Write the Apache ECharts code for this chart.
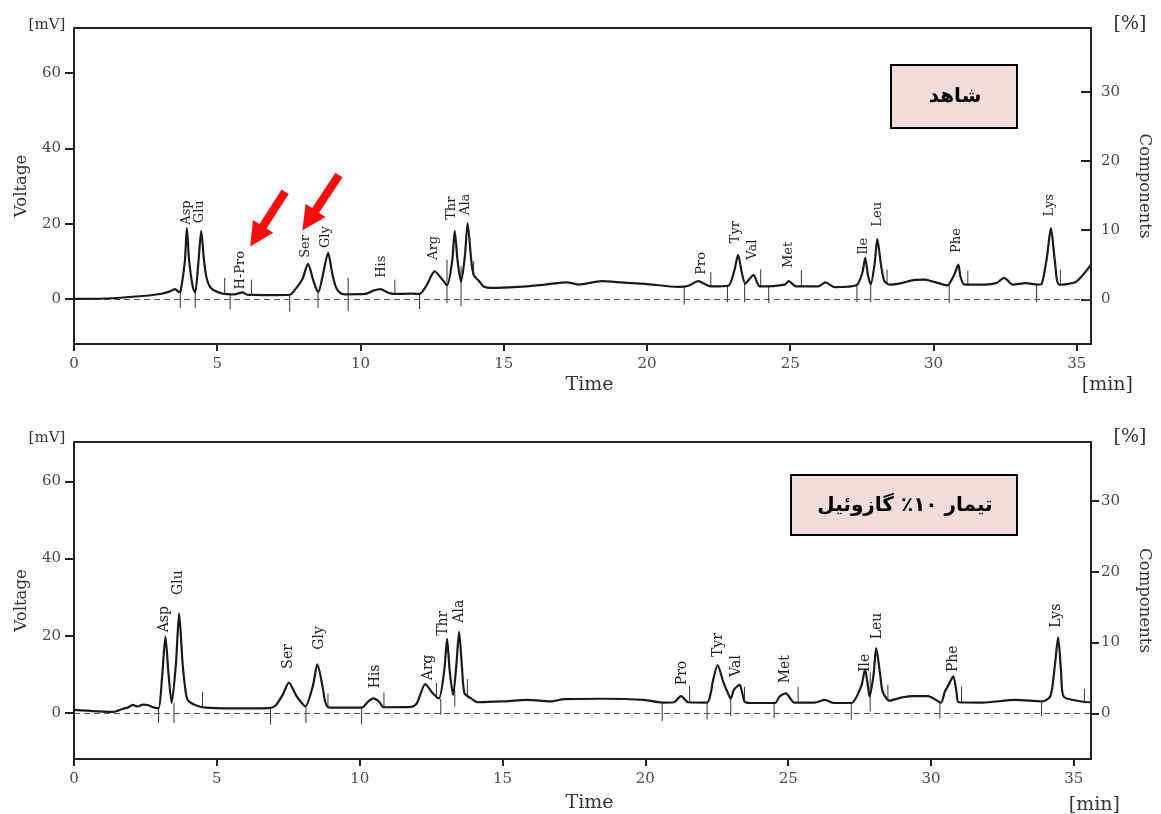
<!DOCTYPE html>
<html>
<head>
<meta charset="utf-8">
<script src="https://cdn.jsdelivr.net/npm/echarts@6/dist/echarts.min.js"></script>
<style>html,body{margin:0;padding:0;background:#fff;}#c{width:1161px;height:814px;}</style>
</head>
<body>
<div id="c"></div>
<script>
// ---- tick labels ----
const timeTicks = [0, 5, 10, 15, 20, 25, 30, 35];
const voltTicks = [0, 20, 40, 60];
const compTicks = [0, 10, 20, 30];

// ---- control (شاهد) chromatogram: [time min, voltage mV] ----
const topCurve = [
  [0,0],[1.1,0.1],[2.28,0.7],[3.0,1.3],[3.35,2.0],[3.53,2.6],[3.66,1.8],[3.72,2.0],
  [3.87,10],[3.94,18.8],[4.02,10],[4.15,3.0],[4.23,1.7],[4.34,9.5],[4.44,18.1],[4.54,10],
  [4.63,5.5],[4.75,3.2],[4.9,2.2],[5.18,1.4],[5.6,1.2],[5.88,1.7],[6.05,1.1],[6.23,1.05],
  [7.0,1.0],[7.53,1.1],[7.75,2.8],[7.97,5.2],[8.17,9.3],[8.34,5.2],[8.45,2.8],[8.53,1.85],
  [8.69,6.5],[8.87,12.2],[9.02,6.5],[9.15,3.0],[9.3,1.5],[9.45,1.2],[10.17,1.3],[10.45,2.2],
  [10.7,2.6],[10.95,1.7],[11.16,1.3],[11.8,1.4],[12.06,1.3],[12.3,3.5],[12.59,7.3],[12.85,5.2],
  [13.02,3.6],[13.2,10],[13.29,18.1],[13.39,10],[13.51,4.5],[13.64,11],[13.74,20.1],[13.87,10],
  [13.95,6.4],[14.13,4.8],[14.3,3.3],[14.59,2.9],[15.5,3.2],[16.45,3.8],[17.2,4.4],[17.6,3.8],
  [18.42,4.7],[19.2,4.3],[19.93,4.0],[21.09,3.2],[21.45,3.5],[21.79,4.7],[22.05,3.8],[22.25,3.3],
  [22.84,3.5],[23.05,7.5],[23.18,11.7],[23.31,7.0],[23.43,4.0],[23.55,5.0],[23.72,6.4],[23.85,4.2],
  [23.94,3.3],[24.81,3.8],[24.95,4.7],[25.2,3.3],[25.97,3.3],[26.23,4.4],[26.55,3.1],[27.31,3.6],
  [27.52,7.0],[27.62,10.9],[27.71,6.5],[27.81,3.8],[27.95,9.5],[28.04,15.9],[28.18,8.5],[28.29,4.7],
  [28.47,3.8],[28.88,4.2],[29.3,5.0],[29.7,5.1],[30.03,4.5],[30.5,3.6],[30.6,4.6],[30.73,6.5],
  [30.87,9.1],[30.94,6.0],[31.08,3.8],[31.8,3.8],[32.2,4.2],[32.47,5.6],[32.77,3.8],[33.23,4.2],
  [33.64,3.8],[33.78,4.0],[33.96,11],[34.1,18.8],[34.24,10],[34.39,3.8],[34.97,4.5],[35.5,9.1]
];
// integration markers: [time, y from, y to]
const topMarks = [
  [3.71,1.8,-2.4],[4.23,1.7,-2.4],[5.26,5.6,1.1],[5.45,1.2,-2.8],[6.19,5.1,1.1],[7.53,1.1,-3.4],
  [8.52,1.85,-2.4],[9.57,5.6,-3.3],[11.2,5.1,1.1],[12.06,1.3,-2.7],[13.02,10.4,-1.1],[13.51,8.6,-2.0],
  [13.95,10,6.4],[21.3,3.2,-1.5],[22.23,7.1,3.3],[22.81,3.5,-0.9],[23.41,4.0,-0.9],[23.97,7.8,3.3],
  [24.25,3.3,-1.1],[25.39,7.6,3.3],[27.33,3.5,-0.9],[27.81,3.8,-0.9],[28.38,7.8,4.0],[30.55,3.6,-1.1],
  [31.2,7.4,3.8],[33.6,3.8,-0.9],[34.43,7.8,3.8]
];
// peak names: [time, y of label start, name]
const topPeaks = [
  [3.94,19.7,'Asp'],[4.4,20.1,'Glu'],[5.82,2.5,'H-Pro'],[8.08,10.9,'Ser'],[8.78,13.5,'Gly'],
  [10.74,5.6,'His'],[12.56,10.4,'Arg'],[13.17,21,'Thr'],[13.66,22.3,'Ala'],[21.9,6.4,'Pro'],
  [23.1,14.8,'Tyr'],[23.68,10.4,'Val'],[24.93,8.2,'Met'],[27.58,11.7,'Ile'],[28.05,19.2,'Leu'],
  [30.8,12.2,'Phe'],[34.05,21.9,'Lys']
];
// red arrows: [tail time, tail y, tip time, tip y]
const topArrows = [
  [7.37,28.5,6.15,13.9],
  [9.25,32.9,7.97,18.2]
];

// ---- treatment (تیمار ۱۰٪ گازوئیل) chromatogram ----
const botCurve = [
  [0,0.8],[1.36,0.3],[1.71,1.1],[1.88,1.4],[2.06,2.1],[2.23,1.7],[2.41,2.2],[2.58,2.1],[2.81,1.4],
  [2.96,1.2],[3.08,9],[3.2,19.8],[3.31,10],[3.42,2.6],[3.57,13],[3.68,25.8],[3.8,13],[3.9,6.0],
  [3.98,3.4],[4.26,2.0],[4.6,1.4],[5.5,1.2],[6.82,1.3],[7.05,1.9],[7.31,4.8],[7.52,7.9],[7.78,4.5],
  [7.95,2.8],[8.1,1.7],[8.36,7.0],[8.52,12.6],[8.71,6.5],[8.79,3.0],[8.93,1.4],[10.07,1.4],[10.3,3.0],
  [10.48,3.8],[10.7,2.8],[10.83,1.5],[11.82,1.6],[12.0,2.5],[12.3,7.5],[12.55,5.2],[12.77,3.8],
  [12.96,11],[13.06,19.2],[13.15,11],[13.27,4.7],[13.38,12],[13.48,21.0],[13.58,12],[13.67,5.1],
  [13.9,3.8],[14.14,2.8],[15.0,3.0],[15.88,3.4],[16.3,3.2],[16.7,3.0],[17.16,3.6],[18.5,3.7],
  [19.95,3.4],[20.59,2.7],[21.0,2.8],[21.25,4.4],[21.5,2.8],[22.16,2.7],[22.3,5.5],[22.35,7.8],
  [22.53,12.4],[22.73,8.0],[22.9,5.0],[22.99,3.8],[23.1,6.0],[23.3,7.3],[23.4,5.0],[23.47,3.0],
  [23.67,2.6],[24.54,2.6],[24.7,4.3],[24.92,5.1],[25.1,3.5],[25.2,2.7],[25.93,2.7],[26.28,3.4],
  [26.6,2.6],[27.21,2.6],[27.56,7.0],[27.69,11.3],[27.8,6.5],[27.85,4.3],[27.99,10],[28.08,16.8],
  [28.22,10],[28.31,5.5],[28.54,3.2],[28.95,4.0],[29.3,4.4],[29.9,4.4],[30.17,3.4],[30.35,2.7],
  [30.48,5.5],[30.58,6.8],[30.78,9.5],[30.9,5.0],[30.96,2.8],[31.8,2.7],[32.96,3.4],[33.89,3.0],
  [34.18,4.4],[34.33,12],[34.45,19.6],[34.55,11],[34.64,4.3],[35.28,3.0],[35.57,2.8]
];
const botMarks = [
  [2.96,1.2,-2.6],[3.5,2.6,-2.6],[4.5,5.5,1.5],[6.88,1.3,-3.0],[8.12,1.7,-2.6],[8.89,5.1,1.4],
  [10.07,1.4,-3.0],[10.85,5.3,1.4],[12.69,7.8,3.8],[12.84,3.8,-0.4],[13.33,6.0,1.7],[13.77,8.8,4.0],
  [20.59,2.7,-2.1],[21.55,7.0,2.7],[22.16,2.7,-1.7],[22.99,3.8,-0.8],[23.47,6.8,2.6],[24.51,2.6,-1.3],
  [25.35,6.8,2.6],[27.21,2.6,-1.7],[27.87,10.6,0.4],[28.49,7.3,3.2],[30.31,2.7,-1.3],[31.07,6.8,2.8],
  [33.87,3.0,-0.8],[35.37,6.3,3.0]
];
const botPeaks = [
  [3.16,20.9,'Asp'],[3.66,30.6,'Glu'],[7.52,11.5,'Ser'],[8.58,16.4,'Gly'],[10.54,6.4,'His'],
  [12.4,8.5,'Arg'],[12.92,20.0,'Thr'],[13.5,23.4,'Ala'],[21.29,7.2,'Pro'],[22.56,14.5,'Tyr'],
  [23.2,9.4,'Val'],[24.9,7.7,'Met'],[27.7,10.6,'Ile'],[28.13,19.1,'Leu'],[30.79,10.6,'Phe'],
  [34.37,22.1,'Lys']
];

const topTitle = 'شاهد';
const botTitle = 'تیمار ۱۰٪ گازوئیل';

// ---- rendering helpers ----
const tickColor = '#4a4a4a';
const serifW = '"DejaVu Serif", serif';

function markRender(params, api) {
  const a = api.coord([api.value(0), api.value(1)]);
  const b = api.coord([api.value(0), api.value(2)]);
  return { type: 'line', shape: { x1: a[0], y1: a[1], x2: b[0], y2: b[1] },
           style: { stroke: '#333', lineWidth: 1 } };
}
function peakRender(size) {
  return function (params, api) {
    const p = api.coord([api.value(0), api.value(1)]);
    return { type: 'text', x: p[0], y: p[1], rotation: Math.PI / 2,
             style: { text: api.value(2), fill: '#222', font: size + 'px ' + serifW,
                      align: 'left', verticalAlign: 'middle' } };
  };
}
function arrowRender(params, api) {
  const a = api.coord([api.value(0), api.value(1)]);
  const b = api.coord([api.value(2), api.value(3)]);
  const dx = b[0] - a[0], dy = b[1] - a[1];
  const len = Math.sqrt(dx * dx + dy * dy);
  const ux = dx / len, uy = dy / len, nx = -uy, ny = ux;
  const L = 24, W = 12, w = 4.2;
  const bx = b[0] - ux * L, by = b[1] - uy * L;
  const pts = [
    [a[0] + nx * w, a[1] + ny * w], [bx + nx * w, by + ny * w], [bx + nx * W, by + ny * W],
    [b[0], b[1]], [bx - nx * W, by - ny * W], [bx - nx * w, by - ny * w], [a[0] - nx * w, a[1] - ny * w]
  ];
  return { type: 'polygon', shape: { points: pts }, style: { fill: '#f70f0f' } };
}

function xAxisDef(grid, max, gap) {
  return {
    type: 'value', gridIndex: grid, min: 0, max: max,
    name: 'Time', nameLocation: 'middle', nameGap: gap,
    nameTextStyle: { fontFamily: serifW, fontSize: 19, color: '#333', padding: [0, 0, 0, 14] },
    axisLine: { show: true, onZero: false, lineStyle: { color: '#222', width: 2 } },
    axisTick: { show: true, length: 7, customValues: timeTicks, lineStyle: { color: '#222', width: 2 } },
    axisLabel: { customValues: timeTicks, fontFamily: serifW, fontSize: 15, color: tickColor, margin: 13 },
    splitLine: { show: false }
  };
}
function yLeft(grid, min, max) {
  return {
    type: 'value', gridIndex: grid, min: min, max: max, position: 'left',
    name: 'Voltage', nameLocation: 'middle', nameGap: 44, nameRotate: 90,
    nameTextStyle: { fontFamily: serifW, fontSize: 16.5, color: '#333' },
    axisLine: { show: true, onZero: false, lineStyle: { color: '#222', width: 2 } },
    axisTick: { show: true, length: 9, customValues: voltTicks, lineStyle: { color: '#222', width: 2 } },
    axisLabel: { customValues: voltTicks, fontFamily: serifW, fontSize: 15, color: tickColor, margin: 13 },
    splitLine: { show: false }
  };
}
function yRight(grid, min, max, inside) {
  return {
    type: 'value', gridIndex: grid, min: min, max: max, position: 'right',
    name: 'Components', nameLocation: 'middle', nameGap: 45, nameRotate: -90,
    nameTextStyle: { fontFamily: serifW, fontSize: 16.5, color: '#333' },
    axisLine: { show: true, onZero: false, lineStyle: { color: '#222', width: 2 } },
    axisTick: { show: true, inside: inside, length: inside ? 10 : 8, customValues: compTicks,
                lineStyle: { color: '#222', width: 2 } },
    axisLabel: { customValues: compTicks, fontFamily: serifW, fontSize: 15, color: tickColor, margin: 10 },
    splitLine: { show: false }
  };
}
function curveSeries(xi, yi, data) {
  return {
    type: 'line', xAxisIndex: xi, yAxisIndex: yi, data: data, showSymbol: false, symbol: 'none',
    smooth: 0.25, lineStyle: { color: '#1a1a1a', width: 2.2 }, z: 5, silent: true,
    markLine: { silent: true, symbol: 'none', label: { show: false },
                lineStyle: { color: '#555', type: [6, 4], width: 1 }, data: [{ yAxis: 0 }] }
  };
}
function textEl(text, x, y, font, align) {
  return { type: 'text', x: x, y: y,
           style: { text: text, font: font, fill: '#333', align: align || 'center', verticalAlign: 'middle' } };
}

const chart = echarts.init(document.getElementById('c'), null, { renderer: 'canvas' });
chart.setOption({
  animation: false,
  backgroundColor: '#fff',
  grid: [
    { left: 74, top: 28, width: 1021, height: 316, show: true, borderColor: '#222', borderWidth: 2 },
    { left: 74, top: 442, width: 1023, height: 321, show: true, borderColor: '#222', borderWidth: 2 }
  ],
  xAxis: [xAxisDef(0, 35.5, 32), xAxisDef(1, 35.6, 35)],
  yAxis: [yLeft(0, -12, 72), yRight(0, -6.47, 39.26, true), yLeft(1, -11.9, 70.2), yRight(1, -6.45, 38.34, false)],
  series: [
    curveSeries(0, 0, topCurve),
    { type: 'custom', xAxisIndex: 0, yAxisIndex: 0, data: topMarks, renderItem: markRender,
      encode: { x: 0, y: [1, 2] }, silent: true, z: 4 },
    { type: 'custom', xAxisIndex: 0, yAxisIndex: 0, data: topPeaks, renderItem: peakRender(13),
      encode: { x: 0, y: 1 }, silent: true, z: 6 },
    { type: 'custom', xAxisIndex: 0, yAxisIndex: 0, data: topArrows, renderItem: arrowRender,
      encode: { x: [0, 2], y: [1, 3] }, silent: true, z: 7 },
    curveSeries(1, 2, botCurve),
    { type: 'custom', xAxisIndex: 1, yAxisIndex: 2, data: botMarks, renderItem: markRender,
      encode: { x: 0, y: [1, 2] }, silent: true, z: 4 },
    { type: 'custom', xAxisIndex: 1, yAxisIndex: 2, data: botPeaks, renderItem: peakRender(14),
      encode: { x: 0, y: 1 }, silent: true, z: 6 }
  ],
  graphic: [
    { type: 'rect', shape: { x: 891, y: 65, width: 126, height: 63 },
      style: { fill: '#f2dcdb', stroke: '#000', lineWidth: 2 }, z: 10 },
    { type: 'text', x: 955, y: 97, z: 11,
      style: { text: topTitle, font: 'bold 20px "DejaVu Sans"', fill: '#000', align: 'center', verticalAlign: 'middle' } },
    { type: 'rect', shape: { x: 791, y: 475, width: 226, height: 60 },
      style: { fill: '#f2dcdb', stroke: '#000', lineWidth: 2 }, z: 10 },
    { type: 'text', x: 905, y: 506, z: 11,
      style: { text: botTitle, font: 'bold 20px "DejaVu Sans"', fill: '#000', align: 'center', verticalAlign: 'middle' } },
    textEl('[mV]', 47, 25, '15px ' + serifW),
    textEl('[%]', 1130, 24, '19px ' + serifW),
    textEl('[min]', 1133, 385, '19px ' + serifW, 'right'),
    textEl('[mV]', 47, 438, '15px ' + serifW),
    textEl('[%]', 1130, 437, '19px ' + serifW),
    textEl('[min]', 1120, 805, '19px ' + serifW, 'right')
  ]
});
</script>
</body>
</html>
